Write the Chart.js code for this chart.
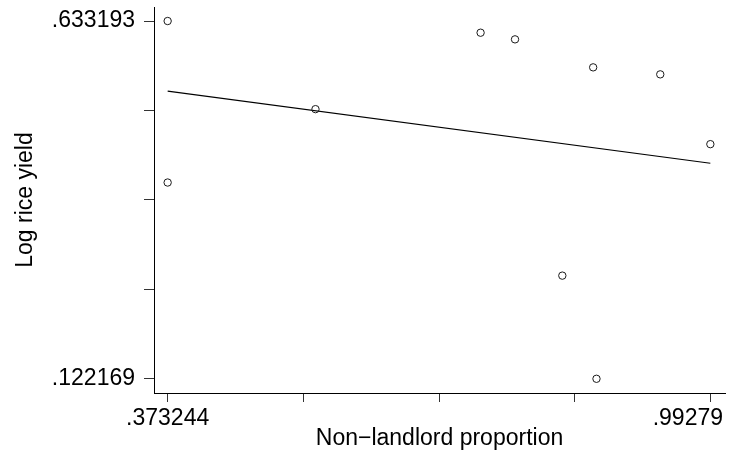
<!DOCTYPE html>
<html>
<head>
<meta charset="utf-8">
<script src="https://cdn.jsdelivr.net/npm/chart.js@4/dist/chart.umd.min.js"></script>
<style>
  html, body { margin: 0; padding: 0; background: #fff; }
</style>
</head>
<body>
<canvas id="chart" width="730" height="451"></canvas>
<script>
// Non-landlord proportion vs log rice yield (scatter + linear fit)
const xValues = [0.373244, 0.373244, 0.5420, 0.7305, 0.7698, 0.8590, 0.9356, 0.99279, 0.8238, 0.8628];
const yValues = [0.633193, 0.4025, 0.5073, 0.6165, 0.6070, 0.5670, 0.5570, 0.4573, 0.2695, 0.122169];

const fitX = [0.373244, 0.99279];
const fitY = [0.5331, 0.4301];

const xTicks = [0.373244, 0.5281305, 0.683017, 0.8379035, 0.99279];
const xTickLabels = ['.373244', '', '', '', '.99279'];
const yTicks = [0.122169, 0.249925, 0.377681, 0.505437, 0.633193];
const yTickLabels = ['.122169', '', '', '', '.633193'];

const FONT = "'Liberation Sans', Arial, sans-serif";

// keep the last x label inside the canvas, as the original graph does
const keepLabelInside = {
  id: 'keepLabelInside',
  beforeDraw(chart) {
    const sc = chart.scales.x;
    const items = sc.getLabelItems(chart.chartArea);
    const last = items[items.length - 1];
    if (!last) return;
    const ctx = chart.ctx;
    ctx.save();
    ctx.font = last.font.string;
    const w = ctx.measureText(last.label).width;
    ctx.restore();
    const limit = chart.width - 7;
    if (last.options.translation[0] + w / 2 > limit) {
      last.options.textAlign = 'right';
      last.options.translation[0] = limit;
    }
  }
};

new Chart(document.getElementById('chart'), {
  type: 'scatter',
  data: {
    datasets: [{
      data: xValues.map((x, i) => ({ x: x, y: yValues[i] })),
      pointStyle: 'circle',
      pointRadius: 3.7,
      backgroundColor: 'rgba(0,0,0,0)',
      borderColor: '#1a1a1a',
      borderWidth: 1
    }, {
      type: 'line',
      data: fitX.map((x, i) => ({ x: x, y: fitY[i] })),
      showLine: true,
      pointRadius: 0,
      borderColor: '#000',
      borderWidth: 1.1,
      fill: false
    }]
  },
  options: {
    responsive: false,
    devicePixelRatio: 1,
    animation: false,
    layout: { padding: { top: 7, right: 3, left: 0, bottom: 0 } },
    plugins: { legend: { display: false }, tooltip: { enabled: false } },
    scales: {
      x: {
        type: 'linear',
        min: 0.357658,
        max: 1.00951,
        afterBuildTicks: (s) => { s.ticks = xTicks.map(v => ({ value: v })); },
        afterFit: (s) => { s.height = 58; s.paddingLeft = 0; s.paddingRight = 0; },
        ticks: {
          autoSkip: false,
          maxRotation: 0,
          padding: 3,
          color: '#000',
          font: { family: FONT, size: 23 },
          callback: (v, i) => xTickLabels[i]
        },
        grid: { drawOnChartArea: false, drawTicks: true, tickLength: 9, color: '#333' },
        border: { display: true, color: '#000', width: 1 },
        title: {
          display: true,
          text: 'Non\u2212landlord proportion',
          color: '#000',
          font: { family: FONT, size: 23 },
          padding: { top: 0, bottom: -1 }
        }
      },
      y: {
        type: 'linear',
        min: 0.10186,
        max: 0.65322,
        afterBuildTicks: (s) => { s.ticks = yTicks.map(v => ({ value: v })); },
        afterFit: (s) => { s.width = 154; s.paddingTop = 0; s.paddingBottom = 0; },
        ticks: {
          autoSkip: false,
          padding: 9,
          color: '#000',
          font: { family: FONT, size: 23 },
          callback: (v, i) => yTickLabels[i]
        },
        grid: { drawOnChartArea: false, drawTicks: true, tickLength: 10, color: '#333' },
        border: { display: true, color: '#000', width: 1 },
        title: {
          display: true,
          text: 'Log rice yield',
          color: '#000',
          font: { family: FONT, size: 23 },
          padding: { top: 12, bottom: 0 }
        }
      }
    }
  },
  plugins: [keepLabelInside]
});
</script>
</body>
</html>
